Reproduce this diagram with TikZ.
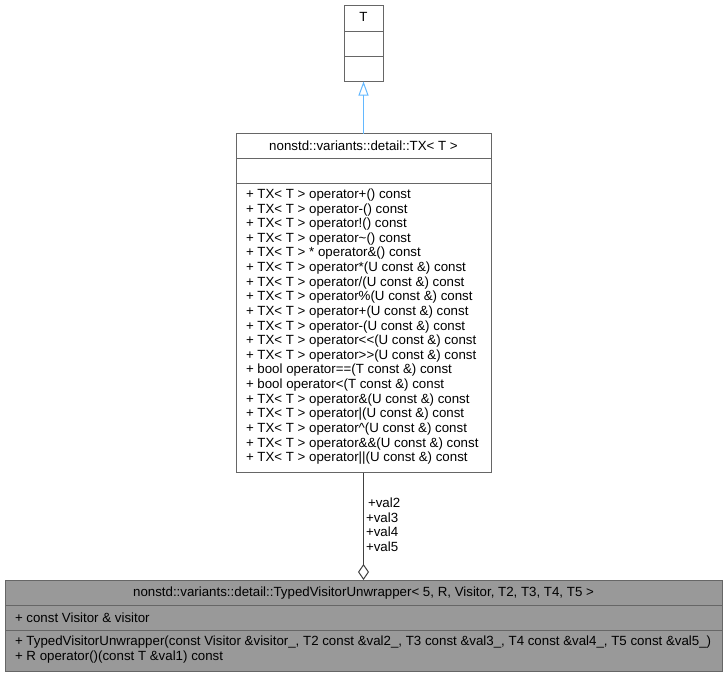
\documentclass[tikz,border=0pt]{standalone}
\usepackage{fontspec}
\setmainfont{Liberation Sans}
\usetikzlibrary{arrows.meta}
\definecolor{boxline}{HTML}{666666}
\definecolor{edgegray}{HTML}{404040}
\definecolor{inhblue}{HTML}{63B8FF}
\definecolor{boxfill}{HTML}{999999}
\begin{document}
\begin{tikzpicture}[x=1pt,y=-1pt,
  every node/.style={inner sep=0pt,outer sep=0pt,font=\fontsize{13.3}{14.6}\selectfont},
  clsbox/.style={draw=boxline,line width=0.9pt,rectangle},
  sepline/.style={draw=boxline,line width=0.9pt},
  txt/.style={anchor=base west},
  ctxt/.style={anchor=base},
  inh/.style={draw=inhblue,line width=1pt,-{Triangle[open,length=14pt,width=10pt]}},
  agg/.style={draw=edgegray,line width=1pt,-{Diamond[open,length=16pt,width=11pt]}},
  lbl/.style={anchor=base west}]
\useasboundingbox (0,0) rectangle (728,677);
% Top class T
\node[clsbox,minimum width=39pt,minimum height=76pt,fill=white] (T) at (363.5,43.5) {};
\draw[sepline] (344,31) -- (383,31);
\draw[sepline] (344,56.5) -- (383,56.5);
\node[ctxt] (Tname) at (363.5,22) {T};
% Middle class TX
\node[clsbox,minimum width=255pt,minimum height=339pt,fill=white] (TX) at (363.5,303) {};
\draw[sepline] (236,158) -- (491,158);
\draw[sepline] (236,183) -- (491,183);
\node[ctxt] (TXname) at (363.5,150.5) {nonstd::variants::detail::TX< T >};
\foreach [count=\i from 0] \t in {
  {+ TX< T > operator+() const},
  {+ TX< T > operator-() const},
  {+ TX< T > operator!() const},
  {+ TX< T > operator\textasciitilde() const},
  {+ TX< T > * operator\&() const},
  {+ TX< T > operator*(U const \&) const},
  {+ TX< T > operator/(U const \&) const},
  {+ TX< T > operator\%(U const \&) const},
  {+ TX< T > operator+(U const \&) const},
  {+ TX< T > operator-(U const \&) const},
  {+ TX< T > operator<{}<(U const \&) const},
  {+ TX< T > operator>{}>(U const \&) const},
  {+ bool operator==(T const \&) const},
  {+ bool operator<(T const \&) const},
  {+ TX< T > operator\&(U const \&) const},
  {+ TX< T > operator|(U const \&) const},
  {+ TX< T > operator\textasciicircum(U const \&) const},
  {+ TX< T > operator\&\&(U const \&) const},
  {+ TX< T > operator||(U const \&) const}}
  \node[txt] (m\i) at (246,198.5+14.62*\i) {\t};
% Bottom class
\node[clsbox,minimum width=717pt,minimum height=91pt,fill=boxfill] (W) at (363.5,625.5) {};
\draw[sepline] (5,605.5) -- (722,605.5);
\draw[sepline] (5,630.5) -- (722,630.5);
\node[ctxt] (Wname) at (363.5,596.5) {nonstd::variants::detail::TypedVisitorUnwrapper< 5, R, Visitor, T2, T3, T4, T5 >};
\node[txt] (Wa) at (15,622) {+ const Visitor \& visitor};
\node[txt] (Wm1) at (15,645) {+ TypedVisitorUnwrapper(const Visitor \&visitor\_, T2 const \&val2\_, T3 const \&val3\_, T4 const \&val4\_, T5 const \&val5\_)};
\node[txt] (Wm2) at (15,660.5) {+ R operator()(const T \&val1) const};
% Edges
\draw[inh] (TX.north) -- (T.south);
\draw[agg] (TX.south) -- (W.north);
\node[lbl] (l2) at (368,507.5) {+val2};
\node[lbl] (l3) at (366,522) {+val3};
\node[lbl] (l4) at (366,536.5) {+val4};
\node[lbl] (l5) at (366,551) {+val5};
\end{tikzpicture}
\end{document}
